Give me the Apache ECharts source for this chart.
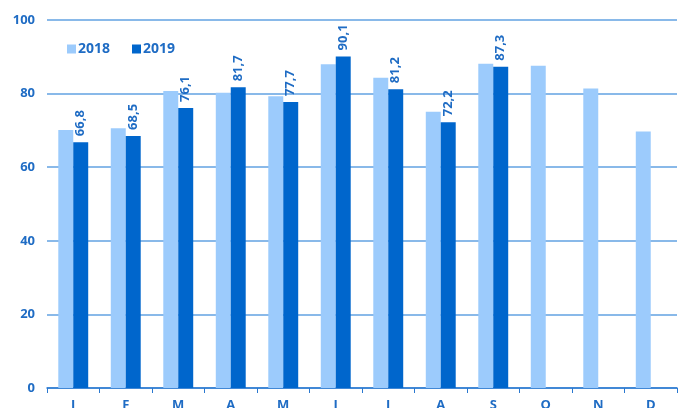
<!DOCTYPE html>
<html><head><meta charset="utf-8">
<script src="https://cdn.jsdelivr.net/npm/echarts@6/dist/echarts.min.js"></script>
<style>html,body{margin:0;padding:0;background:#fff}#c{width:678px;height:408px}</style>
</head><body><div id="c"></div>
<script>
const categories = ['J','F','M','A','M','J','J','A','S','O','N','D'];
const values2018 = [70.1, 70.6, 80.7, 80.2, 79.3, 88.0, 84.3, 75.1, 88.1, 87.6, 81.4, 69.7];
const values2019 = [66.8, 68.5, 76.1, 81.7, 77.7, 90.1, 81.2, 72.2, 87.3, null, null, null];
const yTicks = [0, 20, 40, 60, 80, 100];

const chart = echarts.init(document.getElementById('c'), null, {renderer:'canvas'});
const fontFam = '"Open Sans", "Noto Sans", sans-serif';
chart.setOption({
  animation:false,
  textStyle:{fontFamily:fontFam},
  grid:{left:47, right:1, top:20, bottom:20, containLabel:false, outerBoundsMode:'none'},
  legend:{
    left:62, top:37, itemWidth:9, itemHeight:9, itemGap:22, icon:'rect',
    textStyle:{color:'#1f6cc4', fontWeight:'bold', fontSize:14, fontFamily:fontFam, padding:[0,0,0,-3]},
    data:['2018','2019']
  },
  xAxis:{
    type:'category', data:categories,
    axisLine:{lineStyle:{color:'#2a78d0', width:1.5}},
    axisTick:{show:true, length:5, lineStyle:{color:'#2a78d0'}},
    axisLabel:{color:'#1f6cc4', fontWeight:'bold', fontSize:13, margin:11, fontFamily:fontFam}
  },
  yAxis:{
    type:'value', min:yTicks[0], max:yTicks[yTicks.length-1], interval:20,
    axisLine:{show:false}, axisTick:{show:false},
    splitLine:{lineStyle:{color:'#62a2e2', width:1.5}},
    axisLabel:{color:'#1f6cc4', fontWeight:'bold', fontSize:13, margin:12, fontFamily:fontFam}
  },
  series:[
    {name:'2018', type:'bar', data:values2018, barGap:'0%', barCategoryGap:'43%',
     itemStyle:{color:'#9ccbfc'}},
    {name:'2019', type:'bar', data:values2019,
     itemStyle:{color:'#0066cc'},
     label:{show:true, position:'top', rotate:90, align:'left', verticalAlign:'middle', distance:6,
       color:'#1f6cc4', fontWeight:'bold', fontSize:13, fontFamily:fontFam,
       formatter:p=>p.value==null?'':p.value.toFixed(1).replace('.',',')}}
  ]
});
</script></body></html>
